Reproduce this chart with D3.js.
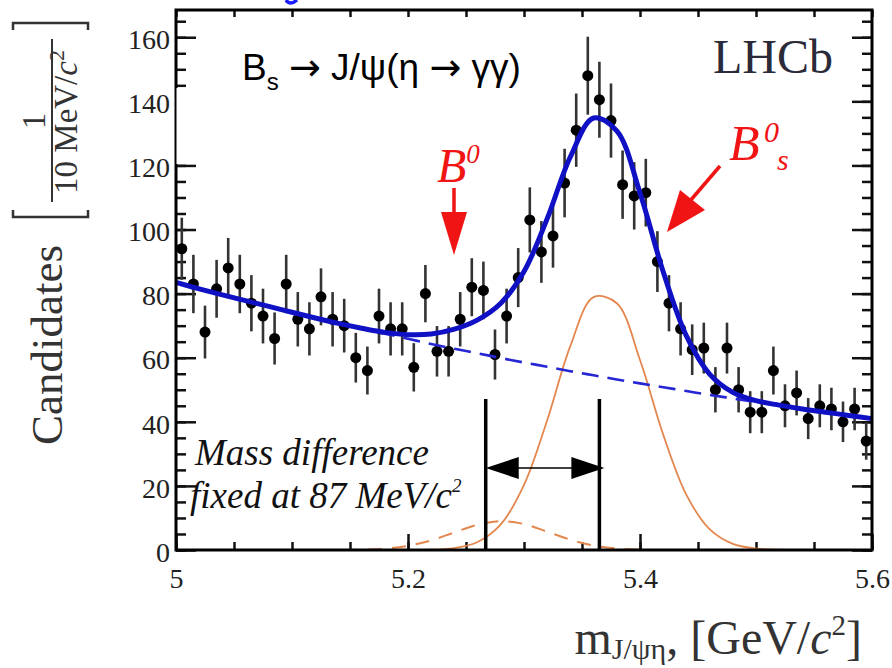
<!DOCTYPE html>
<html>
<head>
<meta charset="utf-8">
<script src="https://cdn.jsdelivr.net/npm/d3@7"></script>
<style>
body{margin:0;background:#fff;}
svg{display:block;}
</style>
</head>
<body>
<div id="chart"></div>
<script>
// histogram: 10 MeV bins, bin centres in GeV
var massBins = [5.005,5.015,5.025,5.035,5.045,5.055,5.065,5.075,5.085,5.095,
                5.105,5.115,5.125,5.135,5.145,5.155,5.165,5.175,5.185,5.195,
                5.205,5.215,5.225,5.235,5.245,5.255,5.265,5.275,5.285,5.295,
                5.305,5.315,5.325,5.335,5.345,5.355,5.365,5.375,5.385,5.395,
                5.405,5.415,5.425,5.435,5.445,5.455,5.465,5.475,5.485,5.495,
                5.505,5.515,5.525,5.535,5.545,5.555,5.565,5.575,5.585,5.595];
var candidates = [94,83,68,81.5,88,83,77,73,66,83,
                  72,69,79,72,70,60,56,73,69,69,
                  57,80,62,62,72,82,81,61,73,85,
                  103,93,98,114.5,131,148,140.5,134,114,110.5,
                  111.5,90,77,69,62.5,63,50,63,50,43,
                  43,56,45,49,41,45,44,40,44,34];

// fit components, read every 20 MeV
var curveMass = [5.00,5.02,5.04,5.06,5.08,5.10,5.12,5.14,5.16,5.18,
                 5.20,5.22,5.24,5.26,5.28,5.30,5.32,5.34,5.36,5.38,
                 5.40,5.42,5.44,5.46,5.48,5.50,5.52,5.54,5.56,5.58,5.60];
var fitTotal = [83.5,81.5,79.6,77.8,76.0,74.2,72.4,70.7,69.2,67.9,
                67.2,67.4,68.9,71.8,77.0,86.9,103.4,122.7,134.8,130.8,
                111.4,86.8,66.8,54.9,49.2,46.6,45.2,44.0,43.0,42.0,41.0];
var fitBackground = [83.5,81.5,79.6,77.8,76.0,74.2,72.4,70.7,69.1,67.5,
                     65.9,64.3,62.8,61.4,59.9,58.5,57.2,55.8,54.5,53.2,
                     52.0,50.8,49.6,48.4,47.3,46.2,45.1,44.0,43.0,42.0,41.0];
var fitBs = [0,0,0,0,0,0,0,0,0,0,
             0.02,0.1,0.6,2.5,8.0,20.3,40.5,63.7,78.9,77.0,
             59.3,36.0,17.2,6.5,1.9,0.45,0.08,0,0,0,0];
var fitB0 = [0,0,0,0,0,0,0,0.02,0.1,0.4,
             1.3,3.0,5.5,7.9,9.0,8.1,5.7,3.2,1.4,0.5,
             0.1,0,0,0,0,0,0,0,0,0,0];

var xTicks = [5, 5.2, 5.4, 5.6];
var xTickLabels = ["5", "5.2", "5.4", "5.6"];
var yTicks = [0,20,40,60,80,100,120,140,160];
var massMarkers = [5.267, 5.365];   // the two lines of the mass-difference arrow

var W = 892, H = 668;
var margin = {top: 10, right: 20, bottom: 118, left: 176};

var svg = d3.select("#chart").append("svg")
    .attr("width", W)
    .attr("height", H);

var x = d3.scaleLinear().domain([5, 5.6]).range([margin.left, W - margin.right]);
var y = d3.scaleLinear().domain([0, 168.5]).range([H - margin.bottom, margin.top]);

var serif = "'Liberation Serif', 'Times New Roman', serif";
var sans = "'Liberation Sans', Arial, sans-serif";
var red = "#f01414";

// ---- axes (ticks drawn inward on all four sides)
function styleAxis(g){
    g.select(".domain").remove();
    g.selectAll(".tick line").attr("stroke", "#111").attr("stroke-width", 2.5);
    g.selectAll(".tick text").attr("font-family", serif).attr("font-size", 28).attr("fill", "#222");
}
var minorX = d3.range(5, 5.601, 0.05);
var minorY = d3.range(0, 166, 5);

svg.append("g").attr("transform", "translate(0," + y(0) + ")")
    .call(d3.axisBottom(x).tickValues(minorX).tickSize(-8).tickFormat(""))
    .call(styleAxis);
svg.append("g").attr("transform", "translate(0," + y(0) + ")")
    .call(d3.axisBottom(x).tickValues(xTicks).tickSize(-16).tickPadding(18)
        .tickFormat(function(d, i){ return xTickLabels[i]; }))
    .call(styleAxis);
svg.append("g").attr("transform", "translate(0," + margin.top + ")")
    .call(d3.axisTop(x).tickValues(minorX).tickSize(-7).tickFormat(""))
    .call(styleAxis);

svg.append("g").attr("transform", "translate(" + x(5) + ",0)")
    .call(d3.axisLeft(y).tickValues(minorY).tickSize(-10).tickFormat(""))
    .call(styleAxis);
svg.append("g").attr("transform", "translate(" + x(5) + ",0)")
    .call(d3.axisLeft(y).tickValues(yTicks).tickSize(-20).tickPadding(6).tickFormat(d3.format("d")))
    .call(styleAxis)
    .selectAll(".tick text").attr("dy", "0.4em");
svg.append("g").attr("transform", "translate(" + x(5.6) + ",0)")
    .call(d3.axisRight(y).tickValues(minorY).tickSize(-10).tickFormat(""))
    .call(styleAxis);
svg.append("g").attr("transform", "translate(" + x(5.6) + ",0)")
    .call(d3.axisRight(y).tickValues(yTicks).tickSize(-20).tickFormat(""))
    .call(styleAxis);

// ---- fit components
var curveLine = function(vals){
    return d3.line()
        .x(function(d, i){ return x(curveMass[i]); })
        .y(function(d){ return y(d); })
        .curve(d3.curveCatmullRom)(vals);
};

svg.append("path").attr("d", curveLine(fitBs))
    .attr("fill", "none").attr("stroke", "#e3874f").attr("stroke-width", 1.8);
svg.append("path").attr("d", curveLine(fitB0))
    .attr("fill", "none").attr("stroke", "#e3874f").attr("stroke-width", 2)
    .attr("stroke-dasharray", "14,10");

// ---- mass-difference marker
var mdY = 468;
massMarkers.forEach(function(m){
    svg.append("line").attr("x1", x(m)).attr("x2", x(m))
        .attr("y1", 399).attr("y2", y(0))
        .attr("stroke", "#000").attr("stroke-width", 3.5);
});
var xl = x(massMarkers[0]), xr = x(massMarkers[1]);
svg.append("line").attr("x1", xl + 20).attr("x2", xr - 20)
    .attr("y1", mdY).attr("y2", mdY).attr("stroke", "#000").attr("stroke-width", 1.5);
svg.append("path")
    .attr("d", "M" + xl + "," + mdY + "L" + (xl + 33) + "," + (mdY - 11) + "L" + (xl + 33) + "," + (mdY + 11) + "Z")
    .attr("fill", "#000");
svg.append("path")
    .attr("d", "M" + (xr + 5) + "," + mdY + "L" + (xr - 28) + "," + (mdY - 11) + "L" + (xr - 28) + "," + (mdY + 11) + "Z")
    .attr("fill", "#000");

// ---- data points with Poisson error bars
var pts = svg.append("g");
pts.selectAll("line").data(candidates).enter().append("line")
    .attr("x1", function(d, i){ return x(massBins[i]); })
    .attr("x2", function(d, i){ return x(massBins[i]); })
    .attr("y1", function(d){ return y(d - Math.sqrt(d)); })
    .attr("y2", function(d){ return y(d + Math.sqrt(d)); })
    .attr("stroke", "#333").attr("stroke-width", 2.6);
pts.selectAll("circle").data(candidates).enter().append("circle")
    .attr("cx", function(d, i){ return x(massBins[i]); })
    .attr("cy", function(d){ return y(d); })
    .attr("r", 5.5).attr("fill", "#000");

svg.append("path").attr("d", curveLine(fitBackground))
    .attr("fill", "none").attr("stroke", "#2626d4").attr("stroke-width", 2.6)
    .attr("stroke-dasharray", "17,9");
svg.append("path").attr("d", curveLine(fitTotal))
    .attr("fill", "none").attr("stroke", "#1010c4").attr("stroke-width", 5);

// ---- frame
svg.append("rect")
    .attr("x", x(5)).attr("y", y(168.5))
    .attr("width", x(5.6) - x(5)).attr("height", y(0) - y(168.5))
    .attr("fill", "none").attr("stroke", "#000").attr("stroke-width", 3);

// white patch from the pasted title box
svg.append("rect").attr("x", x(5) + 0.5).attr("y", 88).attr("width", 30).attr("height", 76).attr("fill", "#fff");

// blue fragment of a cropped line above the plot
svg.append("path").attr("d", "M286,0 Q290,6 297,0").attr("fill", "none")
    .attr("stroke", "#1a1aff").attr("stroke-width", 3.5);

// ---- titles / labels
var arrowFont = "'DejaVu Sans', sans-serif";
var title = svg.append("text").attr("x", 242).attr("y", 80)
    .attr("font-family", sans).attr("font-size", 37).attr("fill", "#000");
title.append("tspan").text("B");
title.append("tspan").attr("font-size", 24).attr("dy", 10).text("s");
title.append("tspan").attr("dy", -10).text(" ");
title.append("tspan").attr("font-family", arrowFont).attr("font-size", 38).text("\u2192");
title.append("tspan").text(" J/\u03c8(\u03b7 ");
title.append("tspan").attr("font-family", arrowFont).attr("font-size", 38).text("\u2192");
title.append("tspan").text(" \u03b3\u03b3)");

svg.append("text").attr("x", 713).attr("y", 73)
    .attr("font-family", serif).attr("font-size", 48).attr("fill", "#2a2a38").text("LHCb");

// B0 label + arrow
var b0 = svg.append("text").attr("x", 437).attr("y", 182)
    .attr("font-family", serif).attr("font-style", "italic").attr("font-size", 48).attr("fill", red);
b0.append("tspan").text("B");
b0.append("tspan").attr("font-size", 27).attr("dy", -19).text("0");
svg.append("line").attr("x1", 454).attr("x2", 454).attr("y1", 188).attr("y2", 215)
    .attr("stroke", red).attr("stroke-width", 3.5);
svg.append("path").attr("d", "M441,212L467,212L454,255Z").attr("fill", red);

// Bs0 label + arrow
svg.append("text").attr("x", 729).attr("y", 160)
    .attr("font-family", serif).attr("font-style", "italic").attr("font-size", 50).attr("fill", red).text("B");
svg.append("text").attr("x", 764).attr("y", 142)
    .attr("font-family", serif).attr("font-style", "italic").attr("font-size", 30).attr("fill", red).text("0");
svg.append("text").attr("x", 777).attr("y", 170)
    .attr("font-family", serif).attr("font-style", "italic").attr("font-size", 30).attr("fill", red).text("s");
svg.append("line").attr("x1", 720).attr("y1", 166).attr("x2", 690).attr("y2", 201)
    .attr("stroke", red).attr("stroke-width", 3.5);
svg.append("path").attr("d", "M667,232L680,190L705,210Z").attr("fill", red);

// mass difference note
var note = svg.append("text").attr("font-family", serif).attr("font-style", "italic")
    .attr("font-size", 37).attr("fill", "#111");
note.append("tspan").attr("x", 195).attr("y", 465).text("Mass difference");
note.append("tspan").attr("x", 190).attr("y", 508).text("fixed at 87 MeV/c");
note.append("tspan").attr("font-size", 19).attr("dy", -16).text("2");

// y axis title
svg.append("text").attr("transform", "translate(62,345) rotate(-90)")
    .attr("text-anchor", "middle").attr("font-family", serif).attr("font-size", 45).attr("fill", "#333")
    .text("Candidates");
svg.append("text").attr("transform", "translate(45,121) rotate(-90)")
    .attr("text-anchor", "middle").attr("font-family", serif).attr("font-size", 33).attr("fill", "#333")
    .text("1");
svg.append("line").attr("x1", 52).attr("x2", 52).attr("y1", 39).attr("y2", 202)
    .attr("stroke", "#333").attr("stroke-width", 2);
var den = svg.append("text").attr("transform", "translate(77,122) rotate(-90)")
    .attr("text-anchor", "middle").attr("font-family", serif).attr("font-size", 33).attr("fill", "#333");
den.append("tspan").text("10 MeV/");
den.append("tspan").attr("font-style", "italic").text("c");
den.append("tspan").attr("font-size", 22).attr("dy", -13).text("2");
svg.append("path").attr("d", "M13,30L13,23L88,23L88,30").attr("fill", "none").attr("stroke", "#333").attr("stroke-width", 2.5);
svg.append("path").attr("d", "M13,210L13,217L88,217L88,210").attr("fill", "none").attr("stroke", "#333").attr("stroke-width", 2.5);

// x axis title
var xt = svg.append("text").attr("x", 862).attr("y", 654).attr("text-anchor", "end")
    .attr("font-family", serif).attr("font-size", 48).attr("fill", "#333");
xt.append("tspan").text("m");
xt.append("tspan").attr("font-size", 30).attr("dy", 5).text("J/\u03c8\u03b7");
xt.append("tspan").attr("dy", -5).text(", [GeV/");
xt.append("tspan").attr("font-style", "italic").text("c");
xt.append("tspan").attr("font-size", 29).attr("dy", -19).text("2");
xt.append("tspan").attr("dy", 19).text("]");
</script>
</body>
</html>
